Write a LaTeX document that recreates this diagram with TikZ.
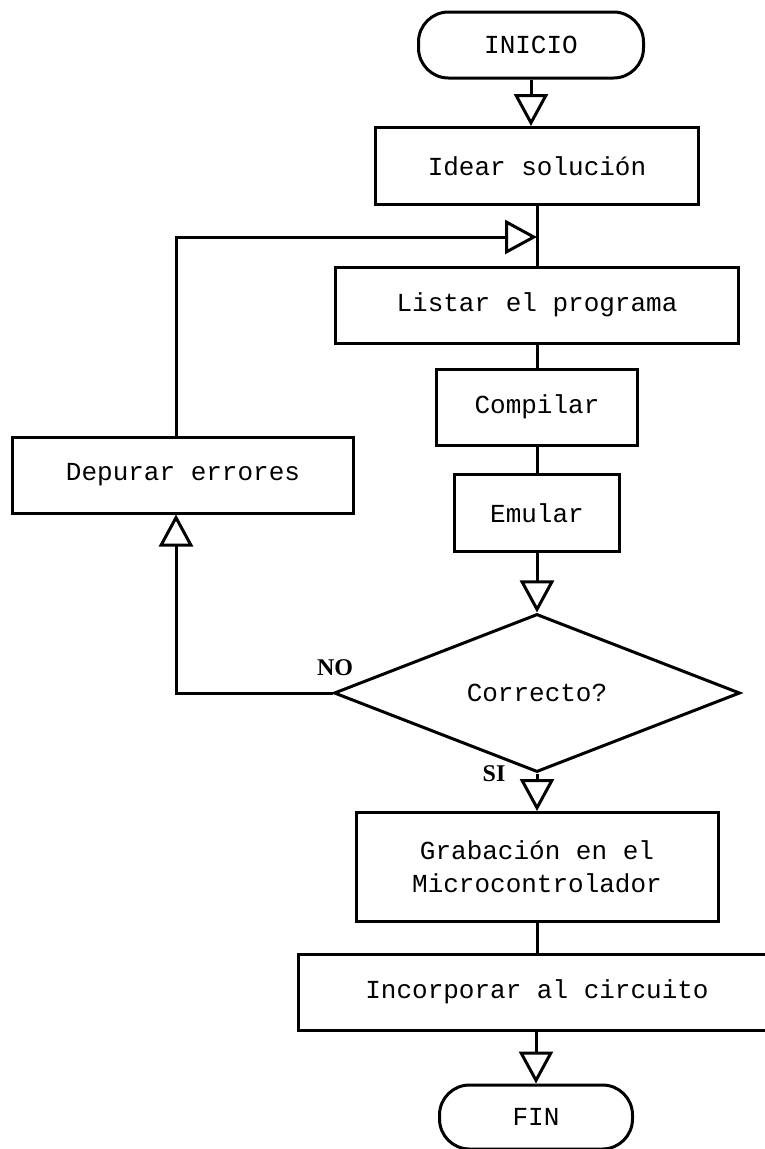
\documentclass[tikz,border=0pt]{standalone}
\usepackage{fontspec}
\setmainfont{Liberation Serif}
\setmonofont{Liberation Mono}
\usetikzlibrary{shapes.geometric, arrows.meta}

\begin{document}
\begin{tikzpicture}[x=1pt, y=1pt, line width=3pt, font=\fontsize{26}{33}\selectfont\ttfamily,
	box/.style = {draw, rectangle, inner sep=0pt, align=center},
	term/.style = {draw, rectangle, rounded corners=30pt, inner sep=0pt},
	decide/.style = {draw, diamond, inner sep=0pt},
	arr/.style = {-{Triangle[open, length=32pt, width=34pt]}},
	lbl/.style = {font=\fontsize{24}{28}\selectfont\rmfamily\bfseries}]
			\useasboundingbox (0,0) rectangle (765,-1149);
			\clip (0,0) rectangle (765,-1149);
			
			\node[term, minimum width=225, minimum height=66] (inicio) at (531,-45) {INICIO};
			\node[box, minimum width=323, minimum height=77] (idear) at (537,-166) {Idear solución};
			\node[box, minimum width=403, minimum height=76] (listar) at (537,-305) {Listar el programa};
			\node[box, minimum width=201, minimum height=76] (compilar) at (537,-407) {Compilar};
			\node[box, minimum width=165, minimum height=77] (emular) at (537,-513) {Emular};
			\node[box, minimum width=341, minimum height=76] (depurar) at (183,-475) {Depurar errores};
			
			\node[decide, minimum width=406, minimum height=133] (correcto) at (537,-693) {Correcto?};
			\node[lbl] (no) at (335,-668) {NO};
			\node[lbl] (si) at (494,-774) {SI};
			
			\node[box, minimum width=362, minimum height=109] (grabar) at (537,-867) {Grabación en el\\Microcontrolador};
			\node[box, minimum width=478, minimum height=76] (incorporar) at (537,-992) {Incorporar al circuito};
			\node[term, minimum width=193, minimum height=64] (fin) at (536,-1117) {FIN};
			
			\coordinate (ltop) at (176,-237);
			\coordinate (join) at (537,-237);
			\coordinate (lbot) at (176,-693);
			
			\draw[arr] (inicio.south) -- (inicio.south |- idear.north);
			\draw (idear) -- (listar);
			\draw[arr] (depurar.north -| ltop) -- (ltop) -- (join);
			\draw (listar) -- (compilar);
			\draw (compilar) -- (emular);
			\draw[arr] (emular) -- (correcto.north);
			\draw[arr] (correcto.west) -- (lbot) -- (lbot |- depurar.south);
			\draw[arr] (correcto.south) -- (grabar.north);
			\draw (grabar) -- (incorporar);
			\draw[arr] (incorporar.south -| fin) -- (fin);
			
		\end{tikzpicture}
\end{document}
